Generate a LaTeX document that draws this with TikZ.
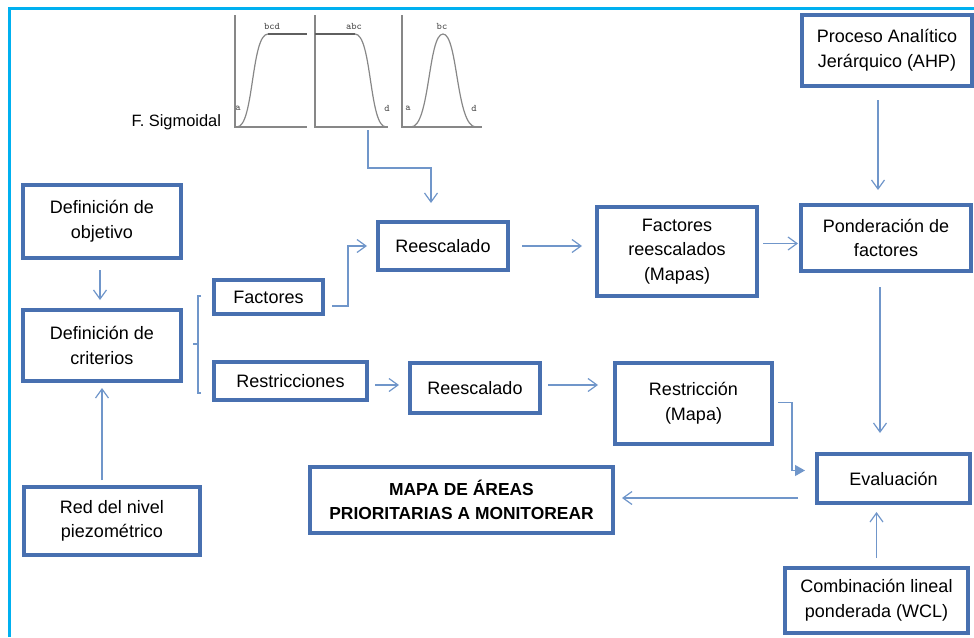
\documentclass[tikz,border=0pt]{standalone}
\usepackage{fontspec}
\setmainfont{Liberation Sans}
\usetikzlibrary{arrows.meta, positioning}

\definecolor{boxblue}{RGB}{72,112,176}
\definecolor{linkblue}{RGB}{112,150,202}
\definecolor{framecyan}{RGB}{0,176,240}
\definecolor{curvegray}{RGB}{135,135,135}

\begin{document}
\begin{tikzpicture}[
    x=0.5pt, y=-0.5pt,
    box/.style={rectangle, draw=boxblue, line width=1.7pt, fill=white, outer sep=0pt,
        inner sep=2pt, align=center, font=\fontsize{9}{12.3}\selectfont},
    arrow/.style={-{Straight Barb[length=4.5pt,width=6.5pt]}, linkblue, line width=0.6pt},
    fillarrow/.style={-{Triangle[length=5pt,width=5.5pt]}, linkblue, line width=0.6pt},
    line/.style={linkblue, line width=0.6pt},
    axis/.style={curvegray, line width=0.7pt},
    curve/.style={curvegray, line width=0.6pt},
    tag/.style={font=\fontsize{5}{6}\ttfamily, text=black!70, inner sep=0pt}
]
\useasboundingbox (0,0) rectangle (974,637);

% Frame
\draw[framecyan, line width=1.5pt] (9.5,637) -- (9.5,8.5) -- (974,8.5);

% Sigmoid functions
\node[font=\fontsize{8.2}{10}\selectfont, anchor=east] (sigtitle) at (228,122) {F. Sigmoidal};
\draw[axis] (235,15) -- (235,127) -- (307,127);
\draw[curve] (237,127) .. controls (254,127) and (251,34) .. (268,34);
\draw[curvegray!70!black, line width=1pt] (268,34) -- (307,34);
\node[tag] at (238,108) {a};
\node[tag] at (272,26) {bcd};
\draw[axis] (315,15) -- (315,127) -- (388,127);
\draw[curvegray!70!black, line width=1pt] (315,34) -- (355,34);
\draw[curve] (355,34) .. controls (372,34) and (369,127) .. (386,127);
\node[tag] at (354,26) {abc};
\node[tag] at (387,108) {d};
\draw[axis] (402,15) -- (402,127) -- (482,127);
\draw[curve] (411,127) .. controls (430,127) and (428,34) .. (443,34)
    .. controls (458,34) and (456,127) .. (476,127);
\node[tag] at (442,26) {bc};
\node[tag] at (408,108) {a};
\node[tag] at (474,108) {d};
\coordinate (sigout) at (368,130);

% Criteria
\node[box, minimum width=79pt, minimum height=36.5pt] (obj) at (102,221.5) {Definición de\\objetivo};
\node[box, minimum width=79pt, minimum height=35.5pt, below=26pt of obj] (crit) {Definición de\\criterios};
\node[box, minimum width=88pt, minimum height=34pt] (red) at (112,521) {Red del nivel\\piezométrico};
\node[box, minimum width=54.5pt, minimum height=17pt] (fac) at (268.5,297) {Factores};
\node[box, minimum width=76.5pt, minimum height=19pt, below=24pt of fac.south west, anchor=north west] (res) {Restricciones};

% Rescaling
\node[box, minimum width=65pt, minimum height=24pt] (rs1) at (443,246) {Reescalado};
\node[box, minimum width=65pt, minimum height=25pt] (rs2) at (475,388) {Reescalado};
\node[box, minimum width=80pt, minimum height=44.5pt] (frs) at (677,251.5) {Factores\\reescalados\\(Mapas)};
\node[box, minimum width=78.5pt, minimum height=40.5pt] (resm) at (693.5,403.5) {Restricción\\(Mapa)};

% Weighting and evaluation
\node[box, minimum width=85pt, minimum height=35.5pt] (ahp) at (887,50.5) {Proceso Analítico\\Jerárquico (AHP)};
\node[box, minimum width=85pt, minimum height=33pt] (pond) at (886,238) {Ponderación de\\factores};
\node[box, minimum width=76.5pt, minimum height=24.5pt] (eval) at (893.5,478.5) {Evaluación};
\node[box, minimum width=91.5pt, minimum height=32.5pt] (wcl) at (876.5,600.5) {Combinación lineal\\ponderada (WCL)};
\node[box, minimum width=151.5pt, minimum height=33pt, font=\fontsize{8.7}{12.3}\selectfont\bfseries] (mapa) at (461.5,500) {MAPA DE ÁREAS\\PRIORITARIAS A MONITOREAR};

% Arrows
\draw[arrow, shorten >=9.5pt] (sigout) -- ++(0,38) -| ([xshift=-6pt]rs1.north);
\draw[arrow, shorten <=6pt, shorten >=5pt] ([xshift=-1pt]obj.south) -- ([xshift=-1pt]obj.south |- crit.north);
\draw[arrow, shorten <=3.5pt, shorten >=3.5pt] (red.north -| crit.south) -- (crit.south);
\draw[line] (201,296) -- (198,296) -- (198,393) -- (201,393) (198,344) -- (193,344);
\draw[arrow, shorten >=5.5pt] ([xshift=4.5pt,yshift=-4.5pt]fac.east) -- ++(16,0) |- (rs1.west);
\draw[arrow, shorten <=4pt, shorten >=5.5pt] ([yshift=1.5pt]res.east |- rs2.west) -- ([yshift=1.5pt]rs2.west);
\draw[arrow, shorten <=7pt, shorten >=7.5pt] (rs1.east) -- (rs1.east -| frs.west);
\draw[arrow, shorten <=4pt, shorten >=8.5pt] ([yshift=1.5pt]rs2.east) -- ([yshift=1.5pt]rs2.east -| resm.west);
\draw[arrow, shorten <=3pt, shorten >=1.5pt] ([yshift=4pt]frs.east) -- ([yshift=4pt]frs.east -| pond.west);
\draw[arrow, shorten <=7pt, shorten >=7.5pt] ([xshift=-4.5pt]ahp.south) -- ([xshift=-4.5pt]ahp.south |- pond.north);
\draw[arrow, shorten <=8pt, shorten >=10.5pt] ([xshift=-3pt]pond.south) -- ([xshift=-3pt]pond.south |- eval.north);
\draw[fillarrow, shorten >=6pt] ([xshift=3pt,yshift=0.5pt]resm.east) -- ++(14,0) |- ([yshift=4pt]eval.west);
\draw[arrow, shorten <=9.5pt, shorten >=4.5pt] ([yshift=1pt]eval.west |- mapa.east) -- ([yshift=1pt]mapa.east);
\draw[arrow, shorten <=5pt, shorten >=4.5pt] (wcl.north) -- (wcl.north |- eval.south);

\end{tikzpicture}
\end{document}
